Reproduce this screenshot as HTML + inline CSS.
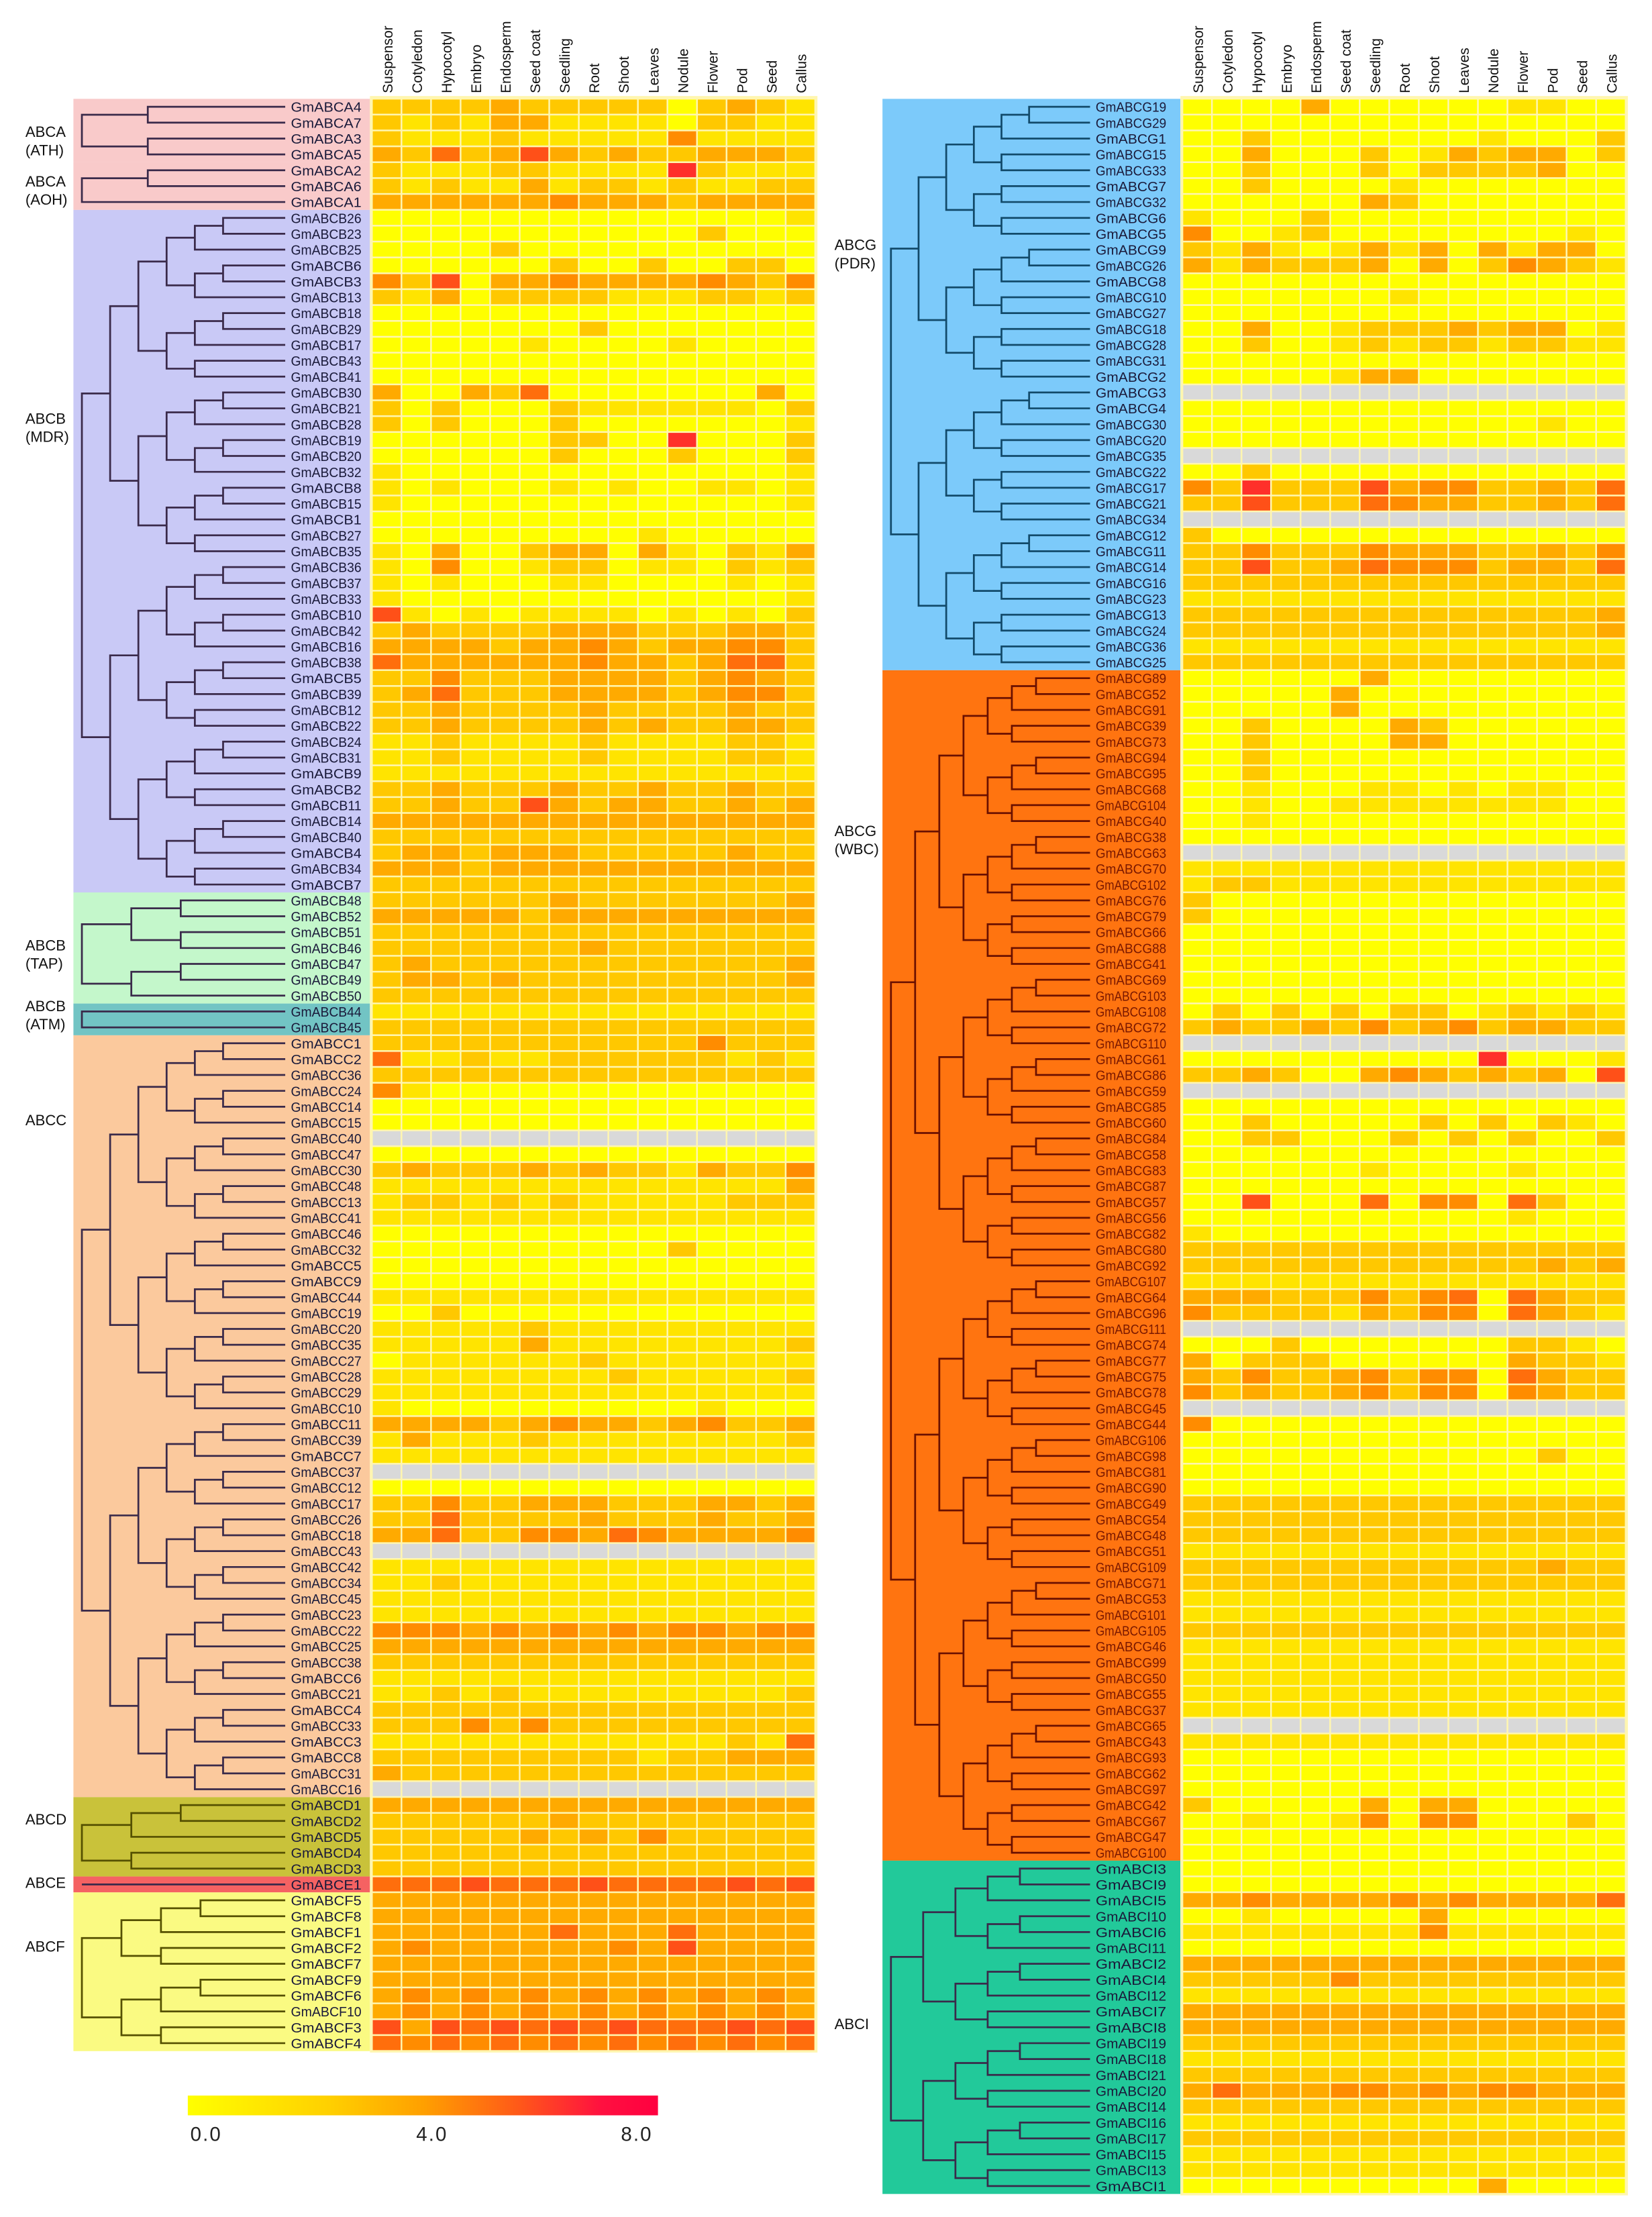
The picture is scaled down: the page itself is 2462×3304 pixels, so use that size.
<!DOCTYPE html>
<html><head><meta charset="utf-8"><style>
html,body{margin:0;padding:0;background:#fff}
svg{display:block}
text{font-family:"Liberation Sans",sans-serif}
</style></head><body>
<svg id="chart" xmlns="http://www.w3.org/2000/svg" width="2462" height="3304" viewBox="0 0 1170 1570" preserveAspectRatio="none">
<rect width="1170" height="1570" fill="#fff"/>
<g id="bg"></g><g id="tree"></g><g id="labels"></g><g id="cells"></g><g id="heads"></g>
<g>
<defs><linearGradient id="cb" x1="0" x2="1"><stop offset="0" stop-color="#ffff00"/><stop offset="0.3" stop-color="#ffd000"/><stop offset="0.5" stop-color="#ffa000"/><stop offset="0.7" stop-color="#ff5a18"/><stop offset="0.88" stop-color="#ff1040"/><stop offset="1" stop-color="#ff0040"/></linearGradient></defs>
<rect x="133" y="1484" width="333" height="14" fill="url(#cb)"/>
<text x="146" y="1516" font-size="14" text-anchor="middle" letter-spacing="1" fill="#222">0.0</text>
<text x="306" y="1516" font-size="14" text-anchor="middle" letter-spacing="1" fill="#222">4.0</text>
<text x="451" y="1516" font-size="14" text-anchor="middle" letter-spacing="1" fill="#222">8.0</text>
</g>
</svg>
<script>
const tissues=["Suspensor","Cotyledon","Hypocotyl","Embryo","Endosperm","Seed coat","Seedling","Root","Shoot","Leaves","Nodule","Flower","Pod","Seed","Callus"];
const leftGenes=["A4","A7","A3","A5","A2","A6","A1","B26","B23","B25","B6","B3","B13","B18","B29","B17","B43","B41","B30","B21","B28","B19","B20","B32","B8","B15","B1","B27","B35","B36","B37","B33","B10","B42","B16","B38","B5","B39","B12","B22","B24","B31","B9","B2","B11","B14","B40","B4","B34","B7","B48","B52","B51","B46","B47","B49","B50","B44","B45","C1","C2","C36","C24","C14","C15","C40","C47","C30","C48","C13","C41","C46","C32","C5","C9","C44","C19","C20","C35","C27","C28","C29","C10","C11","C39","C7","C37","C12","C17","C26","C18","C43","C42","C34","C45","C23","C22","C25","C38","C6","C21","C4","C33","C3","C8","C31","C16","D1","D2","D5","D4","D3","E1","F5","F8","F1","F2","F7","F9","F6","F10","F3","F4"];
const leftValues=["222232222202321","212133111102211","211121111141111","325236323223332","211122111172111","212113122121122","333333433323333","000000000000001","000000000002000","000020000000000","000000200200220","426033433334324","213022221112212","000000000000000","000000020000000","000001000010000","000000000000000","000000000000000","300325000000030","202000211111102","202000200000001","000000220070002","000000200020002","100000000000001","101000101001101","100000000000001","000000000000000","000000000100000","103002330310213","104001220110212","101000110000101","100000000000001","610101111010102","232222333222332","333323343233442","533333343323552","224222333323432","235222333323442","223222232222322","223222232322332","112111121111221","112111121111221","111111111111111","223222322322322","223226323322323","333333333333333","222222222222222","233233322222322","333233333333333","222222222222222","222222322222223","333332333333333","222222222222222","222222232222222","232222222222223","233232222222223","222222222222222","111111111111111","222222222222222","222222222224222","511211222222121","222222222222222","410000000000000","000000000000000","000000000000000","---------------","000000000000000","232223232213224","111111111111113","122121211111222","111111111111111","000000000000000","000000000020000","000000000000000","000000000000000","111111111111111","002000000000000","111112111111111","111113111111112","011111121111111","111111112111112","111111111111111","100000000001000","333323433234223","131112111111112","111111111111111","---------------","000000000000000","224223332223323","225222232223223","335224435433334","---------------","111111111111111","112111111111111","111111111111111","111111111111111","444343434344344","333333333333333","222222222222222","111111111111111","112121111111112","222222222222222","222424222222222","111111111111215","222222222122333","322222222222222","---------------","333333333333333","222222322222222","222223232422222","222222222222222","222222222222222","555655565555656","333333333333333","333333333333333","333333533353333","343333334363333","333333333333333","333333333333333","343434343434343","343434343434343","636565656555656","545454545454545"];
const rightGenes=["G19","G29","G1","G15","G33","G7","G32","G6","G5","G9","G26","G8","G10","G27","G18","G28","G31","G2","G3","G4","G30","G20","G35","G22","G17","G21","G34","G12","G11","G14","G16","G23","G13","G24","G36","G25","G89","G52","G91","G39","G73","G94","G95","G68","G104","G40","G38","G63","G70","G102","G76","G79","G66","G88","G41","G69","G103","G108","G72","G110","G61","G86","G59","G85","G60","G84","G58","G83","G87","G57","G56","G82","G80","G92","G107","G64","G96","G111","G74","G77","G75","G78","G45","G44","G106","G98","G81","G90","G49","G54","G48","G51","G109","G71","G53","G101","G105","G46","G99","G50","G55","G37","G65","G43","G93","G62","G97","G42","G67","G47","G100","I3","I9","I5","I10","I6","I11","I2","I4","I12","I7","I8","I19","I18","I21","I20","I14","I16","I17","I15","I13","I1"];
const rightValues=["000030000001100","000000000000000","002000000010002","003000201323302","002000202222300","002000010000000","000000320000000","100020000000000","400120000000010","213101313031330","313222303024321","000000000000000","000000010000000","000000000000000","003001222323301","002001212212211","000000000000000","000001330000000","---------------","000000000000000","000000000000100","000000000000000","---------------","002000000000000","427222634422325","226222543322325","---------------","200000000000000","224222433322324","226223544423325","222222222222222","111111111111111","222222222222223","222222222222223","111111111111111","222222222222222","000000300000000","000003000000000","000003000000000","002000032000000","002000033000000","002000000000000","002000000000000","001000110101100","001001111111100","001000000000000","000000000000000","---------------","111111111111111","122111111111111","200000000000000","200000000000000","000000000000000","000000000000000","000000000000000","000000000000000","000000000000000","020202022012121","232232423423322","---------------","000000000070001","223200343232306","---------------","000000000000000","002000002020210","002200020202002","000000000000000","000000100001000","000000000000000","006000504405200","000000000001000","100000000000000","222222222222222","222222222222323","111111111111111","333222424505322","422221324405321","---------------","000200000002210","302220000003221","324223424405322","423223424404322","---------------","400000000000000","000000000000000","000000000000200","000000000000000","000000000000000","222222222222222","222222222222222","222222222222222","111111111111111","222222222222322","222222222222222","111111111111111","111111111111111","222222222222222","111111111111111","111111111111111","111111111111111","111111111111111","111111111111111","---------------","111111111111111","000000000000000","000000000000000","000000000000000","200000303300000","001001404400020","000000000000000","000000000000000","000000000000000","000000000000000","334333343433335","001000003000000","111111114111111","000000000000000","333333333333333","222224222222222","111111111111111","333333333333333","333333333333333","222222222222222","111111111111111","222222222222222","353334434344333","222222222222222","111111111111111","222222222222222","111111111111111","111111111111111","000000000030000"];
// groups: [name line1, line2, start row, count, bg color, label y]
const leftGroups=[["ABCA","(ATH)",0,4,"#f9caca",97],["ABCA","(AOH)",4,3,"#f9caca",132],["ABCB","(MDR)",7,43,"#c9c9f6",300],["ABCB","(TAP)",50,7,"#c4f7cb",673],["ABCB","(ATM)",57,2,"#72c4c4",716],["ABCC","",59,48,"#fbc99d",797],["ABCD","",107,5,"#c9c23a",1292],["ABCE","",112,1,"#f56262",1337],["ABCF","",113,10,"#fafa82",1382]];
const rightGroups=[["ABCG","(PDR)",0,36,"#7ccafa",177],["ABCG","(WBC)",36,75,"#ff7410",592],["ABCI","",111,21,"#22c99a",1437]];
const NS="http://www.w3.org/2000/svg";
const Y0=70, RH=11.24, CW=20.93;
const yRow=i=>Y0+i*RH;
const colStops=[[0,[255,255,0]],[2,[255,200,0]],[4,[255,140,0]],[6,[255,80,24]],[8,[255,16,60]]];
function color(v){for(let k=1;k<colStops.length;k++){const [a,ca]=colStops[k-1],[b,cb]=colStops[k];if(v<=b){const t=(v-a)/(b-a);return "rgb("+ca.map((c,j)=>Math.round(c+(cb[j]-c)*t)).join(",")+")";}}return "rgb(255,16,60)";}
function mk(tag,attrs,parent){const e=document.createElementNS(NS,tag);for(const k in attrs)e.setAttribute(k,attrs[k]);parent.appendChild(e);return e;}
const gbg=document.getElementById("bg"),gtree=document.getElementById("tree"),glab=document.getElementById("labels"),gcell=document.getElementById("cells"),ghead=document.getElementById("heads");
function panel(genes,values,groups,bgX,labX,hmX,side){
  const n=genes.length;
  const hb=mk("rect",{x:hmX-2,y:Y0-2,width:15*CW+3,height:n*RH+3,fill:"#fff6b0"},gcell);
  
  
  groups.forEach(g=>{
    const r=mk("rect",{x:bgX,y:yRow(g[2]),width:hmX-2-bgX,height:g[3]*RH,fill:g[4]},gbg);
    
    
    const dark=g[4]=="#ff7410"?"#7a1800":"#1a1a3a";
    // tree
    const stroke=g[4]=="#ff7410"?"#6a1000":(g[4]=="#7ccafa"?"#124a6a":(g[4]=="#fafa82"||g[4]=="#c9c23a"?"#555000":"#3a2a4a"));
    const leafX=labX-4, span=leafX-bgX-10;
    let maxD=Math.max(1,Math.ceil(Math.log2(g[3]))+1);
    function tree(lo,hi,d){
      if(lo==hi){return yRow(g[2]+lo)+RH/2;}
      const mid=Math.floor((lo+hi)/2);
      const x=bgX+6+span*d/maxD;
      const y1=tree(lo,mid,d+1),y2=tree(mid+1,hi,d+1);
      const xc1=lo==mid?leafX:bgX+6+span*(d+1)/maxD, xc2=mid+1==hi?leafX:bgX+6+span*(d+1)/maxD;
      const p=mk("path",{d:`M${xc1} ${y1}H${x}V${y2}H${xc2}`,fill:"none",stroke:stroke,"stroke-width":1.3},gtree);
      
      
      return (y1+y2)/2;
    }
    if(g[3]==1){const y=yRow(g[2])+RH/2;const p=mk("path",{d:`M${bgX+6} ${y}H${leafX}`,stroke:stroke,"stroke-width":1.3},gtree);}
    else tree(0,g[3]-1,0);
    const lx=side=="left"?18:591;
    const t=mk("text",{x:lx,y:g[5],"font-size":10.5,fill:"#111"},glab);
    t.textContent=g[0];
    
    
    if(g[1]){const t2=mk("text",{x:lx,y:g[5]+13,"font-size":10.5,fill:"#111"},glab);t2.textContent=g[1];}
    for(let i=g[2];i<g[2]+g[3];i++){
      const tt=mk("text",{x:labX,y:yRow(i)+RH/2+3.6,"font-size":9.6,fill:dark,textLength:genes[i].length>4?56:50,lengthAdjust:"spacingAndGlyphs"},glab);
      tt.textContent="GmABC"+genes[i];
      
      
    }
  });
  values.forEach((row,i)=>{
    for(let j=0;j<15;j++){
      const ch=row[j];
      const c=mk("rect",{x:hmX+j*CW,y:yRow(i)+0.5,width:CW-1.2,height:RH-1.2,fill:ch=="-"?"#d9d9d9":color(+ch)},gcell);
      
      
    }
  });
  tissues.forEach((t,j)=>{
    const x=hmX+j*CW+CW/2+3.5;
    const tx=mk("text",{x:x,y:66,"font-size":10,fill:"#111",transform:`rotate(-90 ${x} 66)`},ghead);
    tx.textContent=t;
    
    
  });
}
panel(leftGenes,leftValues,leftGroups,52,206,264,"left");
panel(rightGenes,rightValues,rightGroups,625,776,838,"right");
</script>
</body></html>
